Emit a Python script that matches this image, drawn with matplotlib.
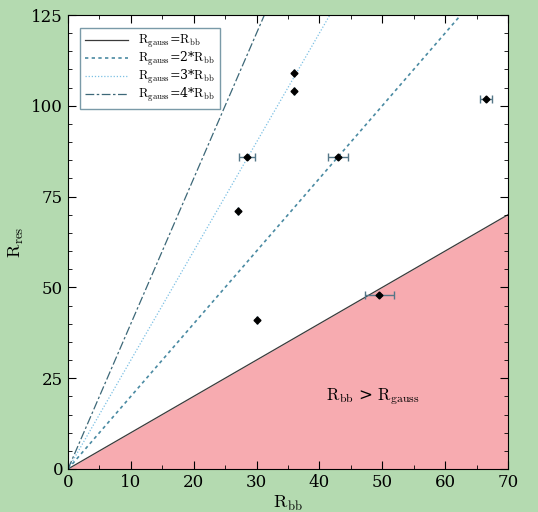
import numpy as np
import matplotlib
matplotlib.use("Agg")
import matplotlib.pyplot as plt
from matplotlib.ticker import MultipleLocator

plt.rcParams["font.family"] = "DejaVu Serif"
plt.rcParams["mathtext.fontset"] = "cm"

# data
r_bb = [36, 36, 28.5, 43, 66.5, 49.5, 27, 30]
r_res = [109, 104, 86, 86, 102, 48, 71, 41]
r_bb_err = [0, 0, 1.3, 1.6, 1.0, 2.3, 0, 0]

slopes = [1, 2, 3, 4]
labels = [r"$\mathrm{R_{gauss}}$=$\mathrm{R_{bb}}$",
          r"$\mathrm{R_{gauss}}$=2*$\mathrm{R_{bb}}$",
          r"$\mathrm{R_{gauss}}$=3*$\mathrm{R_{bb}}$",
          r"$\mathrm{R_{gauss}}$=4*$\mathrm{R_{bb}}$"]
styles = ["-", (0, (2, 2)), (0, (1, 1.5)), (0, (7, 2, 2, 2))]
colors = ["#3a3a3a", "#4a8aa2", "#7cc0e4", "#3d6878"]
widths = [0.9, 1.2, 0.9, 0.9]

green = "#b4dab0"
pink = "#f7abb0"

fig = plt.figure(figsize=(5.38, 5.12), dpi=100, facecolor=green)
ax = fig.add_axes([0.1264, 0.084, 0.8177, 0.8867])
ax.set_facecolor("white")

xs = np.array([0, 70])
ax.fill_between(xs, 0, xs, color=pink, lw=0, zorder=0)
for s, lab, ls, c, w in zip(slopes, labels, styles, colors, widths):
    ax.plot(xs, s * xs, linestyle=ls, color=c, lw=w, label=lab, zorder=1)

ax.errorbar(r_bb, r_res, xerr=r_bb_err, fmt="D", color="black", ms=3.5,
            ecolor="#557788", elinewidth=1, capsize=3, capthick=1, zorder=3)

ax.text(48.5, 20, r"$\mathrm{R_{bb}}$ > $\mathrm{R_{gauss}}$", fontsize=12,
        ha="center", va="center")

ax.set_xlim(0, 70)
ax.set_ylim(0, 125)
ax.xaxis.set_major_locator(MultipleLocator(10))
ax.xaxis.set_minor_locator(MultipleLocator(5))
ax.yaxis.set_major_locator(MultipleLocator(25))
ax.yaxis.set_minor_locator(MultipleLocator(5))
ax.tick_params(which="both", direction="in", top=True, right=True, labelsize=12)
ax.tick_params(which="major", length=6)
ax.tick_params(which="minor", length=3)
ax.set_xlabel(r"$\mathrm{R_{bb}}$", fontsize=13, labelpad=2)
ax.set_ylabel(r"$\mathrm{R_{res}}$", fontsize=13, labelpad=4)

leg = ax.legend(loc="upper left", fontsize=9, fancybox=False, framealpha=1,
                handlelength=3.5, borderpad=0.4, labelspacing=0.0,
                bbox_to_anchor=(0.012, 0.985))
leg.get_frame().set_edgecolor("#7a9aa8")

fig.savefig("out.png", dpi=100, facecolor=green)
